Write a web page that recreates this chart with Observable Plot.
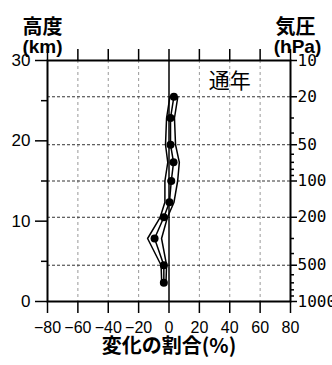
<!DOCTYPE html>
<html><head><meta charset="utf-8">
<script src="https://cdn.jsdelivr.net/npm/d3@7"></script>
<script src="https://cdn.jsdelivr.net/npm/@observablehq/plot@0.6"></script>
<style>body{margin:0;background:#fff}</style>
</head><body><div id="chart"></div>
<script>
// Data: radiosonde pressure levels (hPa), change (%), half-width of envelope (%)
const pressureLevels = [20, 30, 50, 70, 100, 150, 200, 300, 500, 700];
const changePct = [3.2, 1.0, 1.0, 3.0, 1.5, 0.3, -3.4, -9.5, -3.4, -3.4];
const halfWidth = [2.6, 2.6, 3.3, 3.8, 4.2, 3.0, 2.4, 4.6, 1.8, 1.4];

// Tick labels
const xTicks = [-80, -60, -40, -20, 0, 20, 40, 60, 80];
const xGrid = [-60, -40, -20, 20, 40, 60];
const kmMajor = [0, 10, 20, 30];
const kmMinor = [5, 15, 25];
const pMajor = [10, 20, 50, 100, 200, 500, 1000];
const pMinor = [30, 40, 60, 70, 80, 90, 300, 400, 600, 700, 800, 900];
const pGrid = [20, 50, 100, 200, 500];
const panelLabel = [{x: 40, p: 15, t: "通年"}];

const H = 15; // km per decade of pressure
const kmToP = km => 1000 / Math.pow(10, km / H);
const pToKm = p => H * Math.log10(1000 / p);
const fmt = d => d < 0 ? "\u2212" + (-d) : String(d);

const rows = pressureLevels.map((p, i) => ({
  p, v: changePct[i], lo: changePct[i] - halfWidth[i], hi: changePct[i] + halfWidth[i]
}));

const cjk = "'Noto Sans CJK JP', sans-serif";
const latin = "'Liberation Sans', Arial, sans-serif";

const chart = Plot.plot({
  width: 332, height: 365,
  marginLeft: 47, marginRight: 42, marginTop: 60, marginBottom: 64,
  x: {domain: [-80, 80]},
  y: {type: "log", domain: [1000, 10]},
  style: {fontFamily: latin, fontSize: "17px", color: "black", background: "white"},
  marks: [
    Plot.ruleX(xGrid, {stroke: "#999", strokeDasharray: "3,3", strokeWidth: 1}),
    Plot.ruleY(pGrid, {stroke: "#333", strokeDasharray: "3,2", strokeWidth: 1}),
    Plot.ruleX([0], {stroke: "black", strokeWidth: 1.5}),
    Plot.line(rows, {x: "lo", y: "p", stroke: "black", strokeWidth: 1.5}),
    Plot.line(rows, {x: "hi", y: "p", stroke: "black", strokeWidth: 1.5}),
    Plot.line(rows, {x: "v", y: "p", stroke: "black", strokeWidth: 1.5}),
    Plot.dot(rows, {x: "v", y: "p", r: 4, fill: "black"}),
    Plot.axisX({anchor: "bottom", ticks: xTicks, tickSize: 12, tickPadding: 8, tickFormat: fmt, label: null, fontSize: 16, strokeWidth: 1.5}),
    Plot.axisX({anchor: "top", ticks: xTicks, tickSize: 12, tickFormat: () => "", label: null, strokeWidth: 1.5}),
    Plot.axisY({anchor: "left", ticks: kmMajor.map(kmToP), tickSize: 12, tickPadding: 5, tickFormat: p => String(Math.round(pToKm(p))), label: null, fontSize: 17, strokeWidth: 1.5}),
    Plot.axisY({anchor: "left", ticks: kmMinor.map(kmToP), tickSize: 6, tickFormat: () => "", label: null, strokeWidth: 1.5}),
    Plot.axisY({anchor: "right", ticks: pMajor, tickSize: 6, tickPadding: 1, tickFormat: d => String(d), label: null, fontFamily: "'DejaVu Sans Mono', monospace", fontSize: 16, strokeWidth: 1.5}),
    Plot.axisY({anchor: "right", ticks: pMinor, tickSize: 3, tickFormat: () => "", label: null, strokeWidth: 1.5}),
    Plot.frame({stroke: "black", strokeWidth: 2}),
    Plot.text(panelLabel, {x: "x", y: "p", text: "t", fontSize: 21, fontFamily: cjk}),
    Plot.text(["高度"], {text: d => d, frameAnchor: "top-left", textAnchor: "middle", dx: -5, dy: -41, fontSize: 20, fontWeight: "bold", fontFamily: cjk}),
    Plot.text(["(km)"], {text: d => d, frameAnchor: "top-left", textAnchor: "middle", dx: -5, dy: -21, fontSize: 19, fontWeight: "bold", fontFamily: latin}),
    Plot.text(["気圧"], {text: d => d, frameAnchor: "top-right", textAnchor: "middle", dx: 5, dy: -41, fontSize: 20, fontWeight: "bold", fontFamily: cjk}),
    Plot.text(["(hPa)"], {text: d => d, frameAnchor: "top-right", textAnchor: "middle", dx: 7, dy: -21, fontSize: 19, fontWeight: "bold", fontFamily: latin}),
    Plot.text(["変化の割合(%)"], {text: d => d, frameAnchor: "bottom", dy: 51, fontSize: 20, fontWeight: "bold", fontFamily: cjk})
  ]
});
document.getElementById("chart").appendChild(chart);
</script>
</body></html>
